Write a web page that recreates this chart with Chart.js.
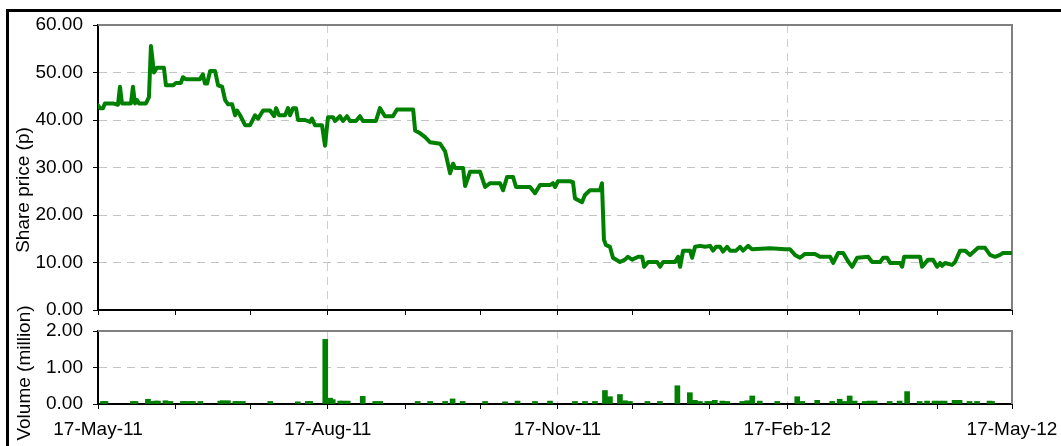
<!DOCTYPE html>
<html>
<head>
<meta charset="utf-8">
<script src="https://cdn.jsdelivr.net/npm/chart.js@4.4.0/dist/chart.umd.min.js"></script>
<style>
  body { margin:0; background:#fff; width:1061px; height:446px; overflow:hidden; position:relative; font-family:"Liberation Sans", Arial, sans-serif; }
  #frame { position:absolute; left:6px; top:9px; width:1100px; height:500px; border-left:3px solid #000; border-top:3px solid #000; }
  canvas { position:absolute; left:0; }
  #priceChart { top:0; }
  #volChart { top:320px; }
  .ytitle { position:absolute; white-space:nowrap; font-size:19px; line-height:1; color:#000; transform:translate(-50%,-50%) rotate(-90deg); }
</style>
</head>
<body>
<div id="frame"></div>
<canvas id="priceChart" width="1061" height="330"></canvas>
<canvas id="volChart" width="1061" height="126"></canvas>
<div class="ytitle" style="left:22px; top:190px;">Share price (p)</div>
<div class="ytitle" style="left:23px; top:373px;">Volume (million)</div>
<script>
// x values are days counted from 17-May-11
const monthDays = [0, 31, 61, 92, 123, 153, 184, 214, 245, 276, 305, 336, 366];
const quarterDays = [0, 92, 184, 276, 366];
const quarterLabels = ['17-May-11', '17-Aug-11', '17-Nov-11', '17-Feb-12', '17-May-12'];

// share price (p)
const priceDays = [
  0, 0.8, 2, 2.8, 6, 8, 8.8, 9.6, 13.2, 14,
  14.8, 15.6, 16.4, 19.2, 20.4, 21.2, 22.4, 23.6, 26.4, 27.2,
  30, 31.2, 33.2, 34, 35.2, 40.8, 42, 42.8, 43.7, 44.9,
  46.9, 48.1, 49.7, 50.9, 52.1, 53.7, 54.9, 55.7, 56.9, 58.9,
  60.9, 62.9, 64.1, 66.1, 68.9, 70.5, 71.3, 72.5, 74.9, 76.1,
  76.9, 78.1, 79.3, 80.1, 82.9, 84.9, 85.7, 86.9, 89.7, 90.9,
  92.1, 94.1, 94.9, 96.9, 98.1, 99.7, 100.9, 103.3, 104.9, 106.1,
  111.3, 112.9, 114.9, 118.1, 119.7, 126.2, 127, 129, 131, 133,
  137, 139, 141, 142.2, 143, 146.2, 147, 149, 153, 155,
  157, 161, 162.2, 163.8, 166.2, 167.4, 173, 175, 177, 181,
  182.2, 183, 184.2, 189, 190.2, 191, 193.8, 195, 197, 201,
  201.8, 202.6, 203.4, 205, 206.2, 209, 211, 212.2, 213.9, 216.3,
  217.9, 218.7, 220.3, 223.9, 225.1, 226.3, 231.1, 232.3, 233.1, 234.3,
  237.1, 237.9, 239.1, 241.1, 243.1, 245.1, 246.3, 247.5, 249.1, 250.3,
  251.9, 253.1, 255.5, 257.1, 258.3, 260.3, 261.9, 269.1, 275.1, 277.1,
  279.1, 281.1, 283.1, 287.1, 289.1, 293.2, 294.4, 296.4, 298.4, 300.4,
  302, 304, 308.4, 310, 313.2, 314.4, 316, 317.2, 321.2, 322,
  322.8, 329.2, 330, 332.4, 334.4, 336, 337.2, 338, 339.2, 342,
  343.2, 345.2, 347.2, 349.2, 352.4, 355.2, 357.2, 359.2, 361.2, 362.4,
  366
];
const prices = [
  43.1, 42.5, 42.5, 43.5, 43.5, 43.2, 47, 43.5, 43.5, 47,
  43.5, 44.2, 43.5, 43.5, 44.8, 55.6, 50, 51, 51, 47.3,
  47.3, 47.8, 47.8, 49, 48.6, 48.6, 49.6, 47.7, 47.7, 50.3,
  50.3, 47.3, 47, 44.2, 43.3, 43.3, 41, 42, 41, 38.9,
  38.9, 41, 40.3, 42, 42, 40.8, 42.5, 41, 41, 42.5,
  41, 42.5, 42.5, 40, 40, 39.6, 40.3, 38.9, 38.9, 34.6,
  40.6, 40.6, 39.8, 40.8, 39.8, 40.8, 39.8, 39.8, 40.8, 39.8,
  39.8, 42.5, 40.8, 40.8, 42.2, 42.2, 37.8, 37.2, 36.4, 35.3,
  35, 33.4, 28.8, 30.8, 29.9, 29.9, 26.1, 29.1, 29.1, 25.9,
  26.7, 26.7, 25.2, 28, 28, 25.9, 25.9, 24.6, 26.3, 26.3,
  26.7, 25.9, 27.1, 27.1, 26.9, 23.5, 22.7, 24.2, 25.2, 25.2,
  26.7, 14.8, 13.7, 13.3, 11, 10.1, 10.6, 11.2, 10.6, 11.2,
  11.2, 9.1, 10.1, 10.1, 9.1, 10.1, 10.1, 11.2, 9.1, 12.5,
  12.5, 11, 13.3, 13.5, 13.3, 13.5, 12.5, 13.3, 13.3, 12.3,
  13.3, 12.5, 12.5, 13.3, 12.5, 13.5, 12.8, 13, 12.8, 12.8,
  11.6, 11, 11.8, 11.8, 11.2, 11.2, 9.9, 12, 12, 10.2,
  9.1, 11, 11.2, 10.1, 10.1, 11, 11, 9.9, 9.9, 9.1,
  11.2, 11.2, 9.1, 10.6, 10.6, 9.1, 9.9, 9.3, 9.9, 9.5,
  10.1, 12.5, 12.5, 11.6, 13.1, 13.1, 11.6, 11.2, 11.6, 12,
  12
];

// volume (million)
const volumeDays = [
  2, 3, 14, 15, 20, 21, 23, 24, 27, 29,
  34, 35, 37, 38, 41, 49, 50, 52, 55, 56,
  58, 69, 80, 84, 85, 91, 93, 94, 97, 98,
  100, 106, 111, 113, 128, 133, 139, 142, 146, 155,
  163, 168, 175, 181, 191, 195, 199, 203, 205, 209,
  211, 213, 220, 225, 232, 237, 239, 241, 244, 246,
  247, 250, 252, 258, 260, 262, 265, 272, 280, 282,
  288, 294, 297, 299, 301, 303, 307, 309, 311, 317,
  321, 324, 329, 332, 335, 337, 339, 343, 345, 349,
  352, 357, 358
];
const volumes = [
  0.07, 0.07, 0.07, 0.07, 0.13, 0.07, 0.08, 0.08, 0.09, 0.07,
  0.07, 0.07, 0.07, 0.07, 0.07, 0.08, 0.09, 0.09, 0.07, 0.07,
  0.07, 0.07, 0.06, 0.07, 0.07, 1.77, 0.16, 0.12, 0.08, 0.08,
  0.08, 0.21, 0.07, 0.07, 0.07, 0.07, 0.07, 0.14, 0.07, 0.07,
  0.06, 0.08, 0.07, 0.08, 0.07, 0.07, 0.07, 0.37, 0.2, 0.26,
  0.09, 0.07, 0.07, 0.07, 0.5, 0.31, 0.1, 0.07, 0.07, 0.07,
  0.1, 0.08, 0.07, 0.07, 0.09, 0.22, 0.08, 0.07, 0.2, 0.07,
  0.1, 0.07, 0.13, 0.07, 0.22, 0.08, 0.07, 0.08, 0.08, 0.07,
  0.08, 0.34, 0.07, 0.08, 0.08, 0.08, 0.08, 0.1, 0.1, 0.07,
  0.07, 0.08, 0.07
];

Chart.defaults.font.family = 'Liberation Sans';
Chart.defaults.color = '#000';

const tickFont = { family: 'Liberation Sans', size: 19 };
const dash = [8, 6];

// grey border on the top and right of the plot area
const plotFrame = {
  id: 'plotFrame',
  beforeDatasetsDraw(chart) {
    const a = chart.chartArea;
    const ctx = chart.ctx;
    ctx.save();
    ctx.strokeStyle = '#808080';
    ctx.lineWidth = 2;
    ctx.beginPath();
    ctx.moveTo(a.left, a.top);
    ctx.lineTo(a.right, a.top);
    ctx.lineTo(a.right, a.bottom);
    ctx.stroke();
    ctx.restore();
  }
};

function xGrid(ctx) {
  const v = ctx.tick ? ctx.tick.value : -1;
  return (quarterDays.includes(v) && v !== 0 && v !== 366) ? '#cfcfcf' : 'rgba(0,0,0,0)';
}

function xScale(showLabels, height) {
  return {
    type: 'linear',
    min: 0,
    max: 366,
    offset: false,
    afterBuildTicks: s => { s.ticks = monthDays.map(v => ({ value: v })); },
    afterFit: s => { s.height = height; s.paddingLeft = 0; s.paddingRight = 0; },
    ticks: {
      display: showLabels,
      autoSkip: false,
      maxRotation: 0,
      minRotation: 0,
      padding: 9,
      font: tickFont,
      color: '#000',
      callback: v => {
        const i = quarterDays.indexOf(v);
        return i >= 0 ? quarterLabels[i] : '';
      }
    },
    grid: { offset: false, color: xGrid, tickColor: '#000', tickLength: 5, tickWidth: 1 },
    border: { color: '#000', width: 2, dash: dash }
  };
}

function yScale(max) {
  return {
    min: 0,
    max: max,
    afterFit: s => { s.width = 98; s.paddingTop = 0; s.paddingBottom = 0; },
    ticks: { stepSize: max === 60 ? 10 : 1, padding: 10, font: tickFont, color: '#000', callback: v => v.toFixed(2) },
    grid: {
      color: ctx => (ctx.tick && ctx.tick.value > 0 && ctx.tick.value < max) ? '#c4c4c4' : 'rgba(0,0,0,0)',
      tickColor: '#000', tickLength: 5, tickWidth: 1
    },
    border: { color: '#000', width: 2, dash: dash }
  };
}

new Chart(document.getElementById('priceChart'), {
  type: 'line',
  data: {
    datasets: [{
      data: priceDays.map((d, i) => ({ x: d, y: prices[i] })),
      borderColor: '#008000',
      borderWidth: 4,
      pointRadius: 0,
      tension: 0,
      borderJoinStyle: 'round',
      borderCapStyle: 'round'
    }]
  },
  options: {
    responsive: false,
    animation: false,
    events: [],
    layout: { padding: { top: 25, right: 49, left: 0, bottom: 0 } },
    plugins: { legend: { display: false }, tooltip: { enabled: false } },
    scales: { x: xScale(false, 20), y: yScale(60) }
  },
  plugins: [plotFrame]
});

new Chart(document.getElementById('volChart'), {
  type: 'bar',
  data: {
    datasets: [{
      data: volumeDays.map((d, i) => ({ x: d, y: volumes[i] })),
      backgroundColor: '#008000',
      borderWidth: 0,
      barThickness: 5
    }]
  },
  options: {
    responsive: false,
    animation: false,
    events: [],
    layout: { padding: { top: 11, right: 49, left: 0, bottom: 0 } },
    plugins: { legend: { display: false }, tooltip: { enabled: false } },
    scales: { x: xScale(true, 42), y: yScale(2) }
  },
  plugins: [plotFrame]
});
</script>
</body>
</html>
